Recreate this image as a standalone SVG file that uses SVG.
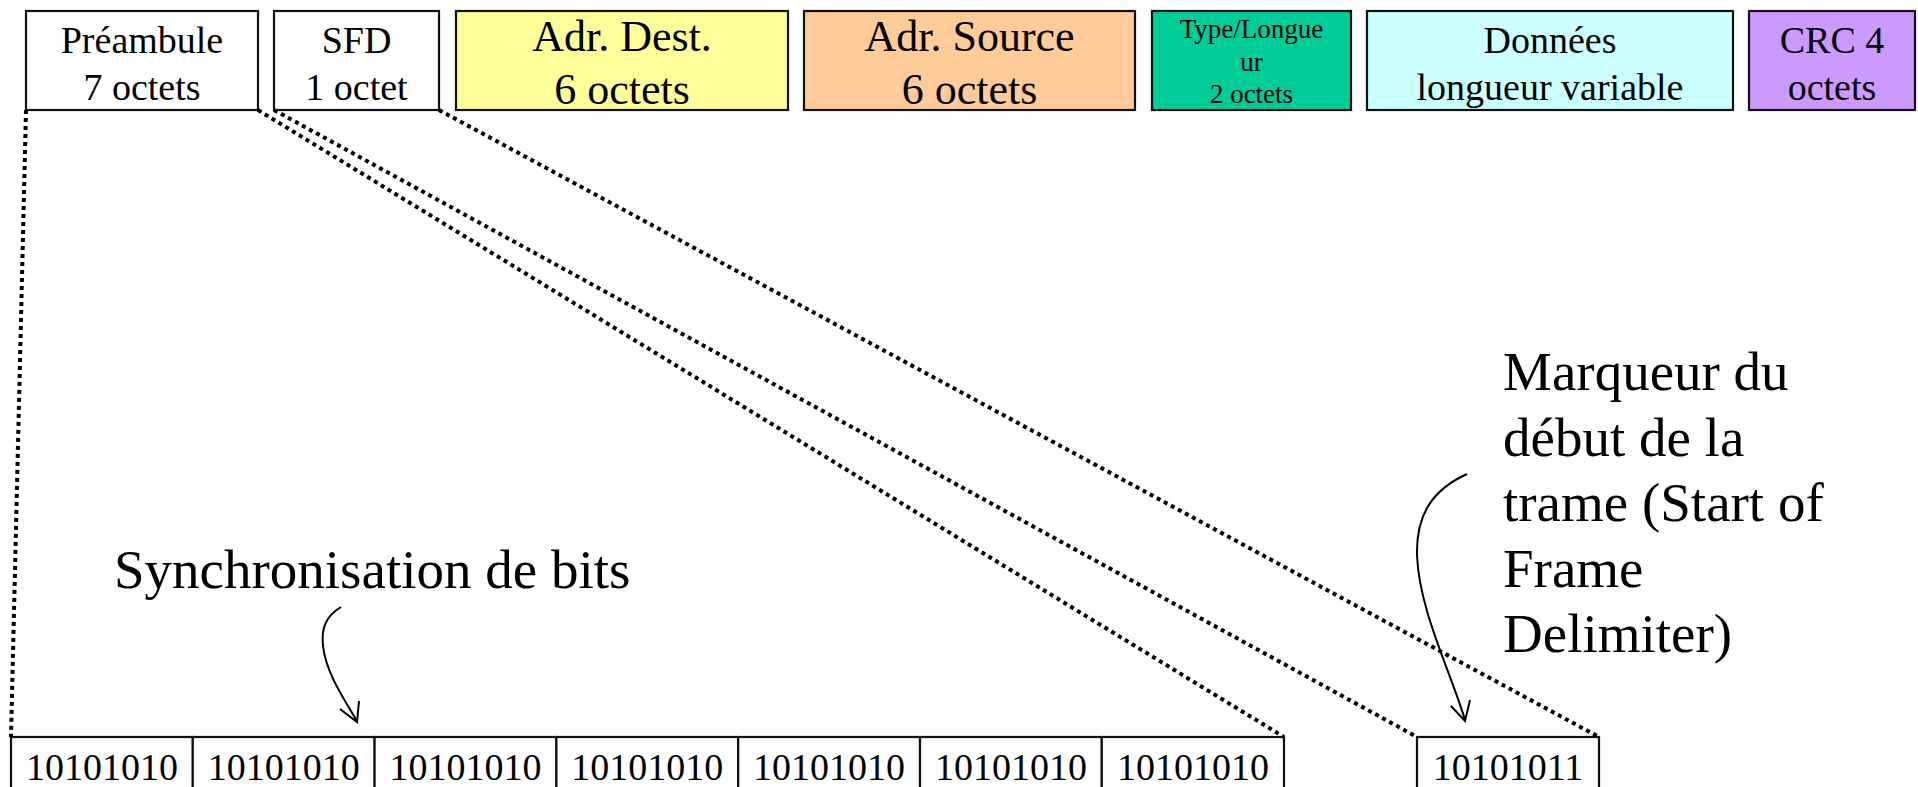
<svg xmlns="http://www.w3.org/2000/svg" width="1918" height="787" viewBox="0 0 1918 787">
<style>
.box{stroke:#111;stroke-width:2.2}
.t{font-family:"Liberation Serif","Times New Roman",serif;fill:#000;text-anchor:middle}
.s38{font-size:38px}
.s44{font-size:44px}
.s27{font-size:27px}
.s37{font-size:38px}
.big{font-family:"Liberation Serif","Times New Roman",serif;font-size:55px;fill:#000}
.dot{stroke:#000;stroke-width:4;stroke-dasharray:4 4;fill:none}
.arr{stroke:#000;stroke-width:2;fill:none}
</style>
<rect width="1918" height="787" fill="#fff"/>
<g id="preambule">
<rect class="box" x="26" y="11" width="232" height="99" fill="#fff"/>
<text class="t s38" x="142" y="53">Préambule</text>
<text class="t s38" x="142" y="100">7 octets</text>
</g>
<g id="sfd">
<rect class="box" x="274" y="11" width="165" height="99" fill="#fff"/>
<text class="t s38" x="356.5" y="53">SFD</text>
<text class="t s38" x="356.5" y="100">1 octet</text>
</g>
<g id="adr-dest">
<rect class="box" x="456" y="11" width="332" height="99" fill="#FFFF99"/>
<text class="t s44" x="622" y="51">Adr. Dest.</text>
<text class="t s44" x="622" y="104">6 octets</text>
</g>
<g id="adr-source">
<rect class="box" x="804" y="11" width="331" height="99" fill="#FFCC99"/>
<text class="t s44" x="969.5" y="51">Adr. Source</text>
<text class="t s44" x="969.5" y="104">6 octets</text>
</g>
<g id="type-longueur">
<rect class="box" x="1152" y="11" width="199" height="99" fill="#00CC99"/>
<text class="t s27" x="1251.5" y="38">Type/Longue</text>
<text class="t s27" x="1251.5" y="71">ur</text>
<text class="t s27" x="1251.5" y="103">2 octets</text>
</g>
<g id="donnees">
<rect class="box" x="1367" y="11" width="366" height="99" fill="#CCFFFF"/>
<text class="t s38" x="1550" y="53">Données</text>
<text class="t s38" x="1550" y="100">longueur variable</text>
</g>
<g id="crc">
<rect class="box" x="1749" y="11" width="166" height="99" fill="#CC99FF"/>
<text class="t s38" x="1832" y="53">CRC 4</text>
<text class="t s38" x="1832" y="100">octets</text>
</g>
<g id="preambule-bits">
<rect class="box" x="11" y="737" width="181.8" height="70" fill="#fff"/>
<rect class="box" x="192.8" y="737" width="181.8" height="70" fill="#fff"/>
<rect class="box" x="374.6" y="737" width="181.8" height="70" fill="#fff"/>
<rect class="box" x="556.4" y="737" width="181.8" height="70" fill="#fff"/>
<rect class="box" x="738.2" y="737" width="181.8" height="70" fill="#fff"/>
<rect class="box" x="920" y="737" width="181.8" height="70" fill="#fff"/>
<rect class="box" x="1101.8" y="737" width="182.2" height="70" fill="#fff"/>
<text class="t s37" x="101.9" y="780">10101010</text>
<text class="t s37" x="283.7" y="780">10101010</text>
<text class="t s37" x="465.5" y="780">10101010</text>
<text class="t s37" x="647.3" y="780">10101010</text>
<text class="t s37" x="829.1" y="780">10101010</text>
<text class="t s37" x="1010.9" y="780">10101010</text>
<text class="t s37" x="1192.9" y="780">10101010</text>
</g>
<g id="sfd-bits">
<rect class="box" x="1417" y="737" width="182" height="70" fill="#fff"/>
<text class="t s37" x="1508" y="780">10101011</text>
</g>
<g id="label-sync">
<text class="big" x="114" y="588">Synchronisation de bits</text>
</g>
<g id="label-sfd">
<text class="big" x="1503" y="390">Marqueur du</text>
<text class="big" x="1503" y="455.5">début de la</text>
<text class="big" x="1503" y="521">trame (Start of</text>
<text class="big" x="1503" y="586.5">Frame</text>
<text class="big" x="1503" y="652">Delimiter)</text>
</g>
<g id="connectors">
<line class="dot" x1="26" y1="110" x2="11" y2="737"/>
<line class="dot" x1="258" y1="110" x2="1284" y2="737"/>
<line class="dot" x1="274" y1="110" x2="1417" y2="737"/>
<line class="dot" x1="439" y1="110" x2="1599" y2="737"/>
<path class="arr" d="M341,607 C326,616 321,628 323,646 C326,672 342,696 357,721"/>
<path class="arr" d="M340,709 L357,722 L359,701"/>
<path class="arr" d="M1467,474 C1432,490 1416,515 1417,555 C1419,610 1450,670 1465,720"/>
<path class="arr" d="M1451,706 L1465,721 L1470,700"/>
</g>
</svg>
